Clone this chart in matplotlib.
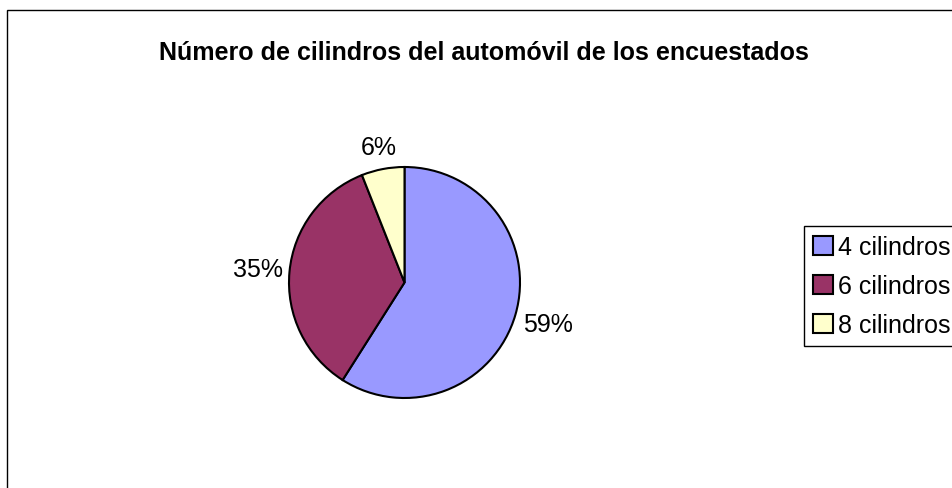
import matplotlib
matplotlib.use("Agg")
import matplotlib.pyplot as plt
from matplotlib.patches import Rectangle
import numpy as np

plt.rcParams['font.family'] = ['Liberation Sans', 'DejaVu Sans']

title = "Número de cilindros del automóvil de los encuestados"
categories = ["4 cilindros", "6 cilindros", "8 cilindros"]
values = [59, 35, 6]
colors = ["#9999FF", "#993366", "#FFFFCC"]

W, H = 952, 489
fig = plt.figure(figsize=(W / 100, H / 100), dpi=100)

# outer chart frame (extends past right and bottom edges)
fig.patches.append(Rectangle((7 / W, -0.1), 1.2, (H - 11) / H + 0.1,
                             transform=fig.transFigure, fill=False,
                             edgecolor="black", linewidth=1.0))

fig.text(484 / W, 1 - 53 / H, title, ha="center", va="center",
         fontsize=18, fontweight="bold")

R = 115.5
cx, cy = 404.5, 283.5
ax = fig.add_axes([(cx - R) / W, (H - cy - R) / H, 2 * R / W, 2 * R / H])
wedges, _ = ax.pie(values, colors=colors, startangle=90, counterclock=False,
                   wedgeprops=dict(edgecolor="black", linewidth=1.5))
ax.set_xlim(-1, 1)
ax.set_ylim(-1, 1)
ax.set_aspect("equal")
ax.axis("off")

# percentage labels outside the wedges
total = sum(values)
cum = 0
dists = [1.29, 1.27, 1.19]
for v, d in zip(values, dists):
    mid = cum + v / 2
    ang = np.deg2rad(90 - 360 * mid / total)
    ax.text(d * np.cos(ang), d * np.sin(ang), f"{round(100 * v / total)}%",
            ha="center", va="center", fontsize=18, clip_on=False)
    cum += v

leg = fig.legend(wedges, categories, loc="upper left",
                 bbox_to_anchor=(804 / W, 1 - 227 / H), fontsize=18,
                 frameon=True, fancybox=False, edgecolor="black",
                 handlelength=0.8, handleheight=0.8, handletextpad=0.2,
                 labelspacing=0.6, borderpad=0.35, borderaxespad=0,
                 framealpha=1)
leg.get_frame().set_linewidth(1.0)
for h in leg.legend_handles:
    h.set_linewidth(1.5)

fig.savefig("out.png", dpi=100)
